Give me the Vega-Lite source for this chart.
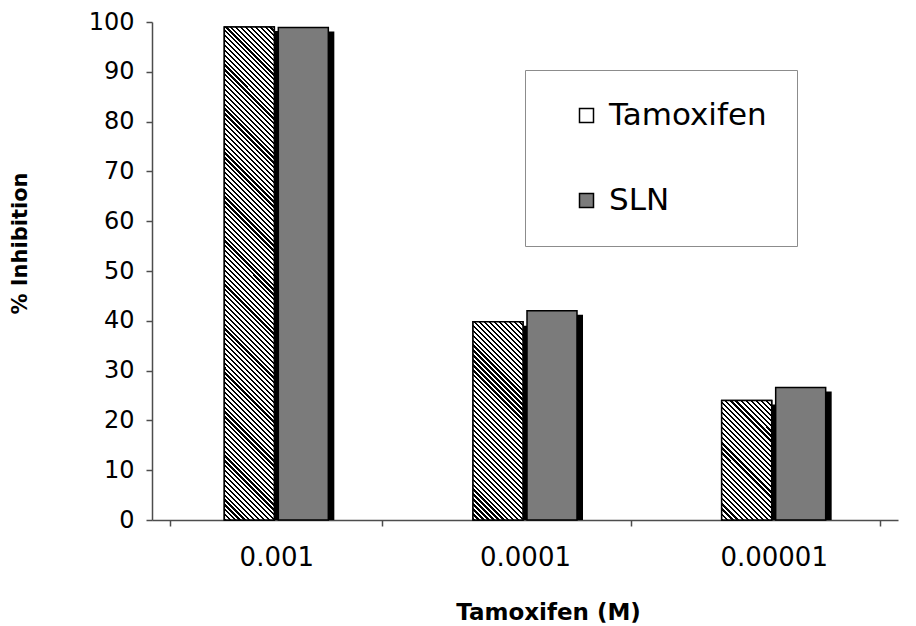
{
 "$schema": "https://vega.github.io/schema/vega-lite/v6.json",
 "width": 746,
 "height": 498,
 "autosize": {"type": "none"},
 "padding": {"left": 152, "top": 22, "right": 18, "bottom": 106},
 "background": "white",
 "config": {
  "view": {"stroke": null},
  "axis": {"grid": false},
  "axisY": {"labelFont": "DejaVu Sans", "labelFontSize": 24, "labelColor": "black", "labelPadding": 12, "tickSize": 6, "tickColor": "#4d4d4d", "tickWidth": 1.5, "domainColor": "#4d4d4d", "domainWidth": 1.5, "titleFont": "DejaVu Sans", "titleFontSize": 21, "titleFontWeight": "bold", "titleColor": "black", "titleX": -132, "titleY": 221, "titleAlign": "center", "titleBaseline": "middle", "titleAngle": -90, "tickCount": 11},
  "axisX": {"labelFont": "DejaVu Sans", "labelFontSize": 26, "labelColor": "black", "labelAngle": 0, "labelPadding": 18, "tickSize": 6, "tickColor": "#4d4d4d", "tickWidth": 1.5, "domainColor": "#4d4d4d", "domainWidth": 1.5, "tickBand": "extent", "titleFont": "DejaVu Sans", "titleFontSize": 23, "titleFontWeight": "bold", "titleColor": "black", "titleX": 396, "titleY": 99, "titleAlign": "center", "titleBaseline": "alphabetic"}
 },
 "data": {"values": [
  {"conc": "0.001", "series": "Tamoxifen", "value": 99},
  {"conc": "0.001", "series": "SLN", "value": 98.9},
  {"conc": "0.0001", "series": "Tamoxifen", "value": 39.8},
  {"conc": "0.0001", "series": "SLN", "value": 42},
  {"conc": "0.00001", "series": "Tamoxifen", "value": 24},
  {"conc": "0.00001", "series": "SLN", "value": 26.6}
 ]},
 "encoding": {
  "x": {"field": "conc", "type": "nominal", "sort": ["0.001", "0.0001", "0.00001"], "title": "Tamoxifen (M)", "scale": {"paddingInner": 0.1475, "paddingOuter": 0.0737}},
  "y": {"field": "value", "type": "quantitative", "stack": null, "title": "% Inhibition", "scale": {"domain": [0, 100], "nice": false}}
 },
 "resolve": {"scale": {"xOffset": "independent"}},
 "layer": [
  {
   "mark": {"type": "bar", "color": "black", "yOffset": 4},
   "encoding": {
    "xOffset": {"field": "series", "type": "nominal", "sort": ["Tamoxifen", "SLN"], "scale": {"paddingInner": 0.074, "paddingOuter": 1, "align": 0.5556}}
   }
  },
  {
   "encoding": {
    "xOffset": {"field": "series", "type": "nominal", "sort": ["Tamoxifen", "SLN"], "scale": {"paddingInner": 0.074, "paddingOuter": 1}}
   },
   "layer": [
    {
     "mark": {"type": "bar", "stroke": "black", "strokeWidth": 1.5},
     "encoding": {
      "color": {"field": "series", "type": "nominal", "scale": {"domain": ["Tamoxifen", "SLN"], "range": ["#ffffff", "#7b7b7b"]},
       "legend": {"orient": "none", "legendX": 373, "legendY": 48, "title": null, "direction": "vertical", "padding": 30, "strokeColor": "#8c8c8c", "fillColor": "white", "symbolType": "square", "symbolSize": 196, "symbolStrokeColor": "black", "symbolStrokeWidth": 1.5, "symbolOpacity": 1, "symbolOffset": 16, "labelOffset": 7, "labelFont": "DejaVu Sans", "labelFontSize": 31, "labelColor": "black", "rowPadding": 53, "labelLimit": 400, "zindex": 1}
      }
     }
    },
    {
     "transform": [{"filter": "datum.series === 'Tamoxifen' && datum.conc === '0.001'"}],
     "mark": {"type": "bar", "strokeWidth": 0, "fill": {"gradient": "linear", "x1": 0, "y1": 1, "x2": 0.1106, "y2": -0.0902, "stops": [
{"offset":0,"color":"#000"},{"offset":0.004,"color":"#000"},{"offset":0.004,"color":"#fff"},{"offset":0.009,"color":"#fff"},
{"offset":0.009,"color":"#000"},{"offset":0.013,"color":"#000"},{"offset":0.013,"color":"#fff"},{"offset":0.018,"color":"#fff"},
{"offset":0.018,"color":"#000"},{"offset":0.022,"color":"#000"},{"offset":0.022,"color":"#fff"},{"offset":0.027,"color":"#fff"},
{"offset":0.027,"color":"#000"},{"offset":0.031,"color":"#000"},{"offset":0.031,"color":"#fff"},{"offset":0.036,"color":"#fff"},
{"offset":0.036,"color":"#000"},{"offset":0.040,"color":"#000"},{"offset":0.040,"color":"#fff"},{"offset":0.045,"color":"#fff"},
{"offset":0.045,"color":"#000"},{"offset":0.049,"color":"#000"},{"offset":0.049,"color":"#fff"},{"offset":0.054,"color":"#fff"},
{"offset":0.054,"color":"#000"},{"offset":0.058,"color":"#000"},{"offset":0.058,"color":"#fff"},{"offset":0.063,"color":"#fff"},
{"offset":0.063,"color":"#000"},{"offset":0.067,"color":"#000"},{"offset":0.067,"color":"#fff"},{"offset":0.072,"color":"#fff"},
{"offset":0.072,"color":"#000"},{"offset":0.076,"color":"#000"},{"offset":0.076,"color":"#fff"},{"offset":0.081,"color":"#fff"},
{"offset":0.081,"color":"#000"},{"offset":0.085,"color":"#000"},{"offset":0.085,"color":"#fff"},{"offset":0.090,"color":"#fff"},
{"offset":0.090,"color":"#000"},{"offset":0.094,"color":"#000"},{"offset":0.094,"color":"#fff"},{"offset":0.099,"color":"#fff"},
{"offset":0.099,"color":"#000"},{"offset":0.103,"color":"#000"},{"offset":0.103,"color":"#fff"},{"offset":0.108,"color":"#fff"},
{"offset":0.108,"color":"#000"},{"offset":0.112,"color":"#000"},{"offset":0.112,"color":"#fff"},{"offset":0.117,"color":"#fff"},
{"offset":0.117,"color":"#000"},{"offset":0.121,"color":"#000"},{"offset":0.121,"color":"#fff"},{"offset":0.126,"color":"#fff"},
{"offset":0.126,"color":"#000"},{"offset":0.130,"color":"#000"},{"offset":0.130,"color":"#fff"},{"offset":0.135,"color":"#fff"},
{"offset":0.135,"color":"#000"},{"offset":0.139,"color":"#000"},{"offset":0.139,"color":"#fff"},{"offset":0.144,"color":"#fff"},
{"offset":0.144,"color":"#000"},{"offset":0.148,"color":"#000"},{"offset":0.148,"color":"#fff"},{"offset":0.153,"color":"#fff"},
{"offset":0.153,"color":"#000"},{"offset":0.157,"color":"#000"},{"offset":0.157,"color":"#fff"},{"offset":0.162,"color":"#fff"},
{"offset":0.162,"color":"#000"},{"offset":0.166,"color":"#000"},{"offset":0.166,"color":"#fff"},{"offset":0.171,"color":"#fff"},
{"offset":0.171,"color":"#000"},{"offset":0.175,"color":"#000"},{"offset":0.175,"color":"#fff"},{"offset":0.180,"color":"#fff"},
{"offset":0.180,"color":"#000"},{"offset":0.184,"color":"#000"},{"offset":0.184,"color":"#fff"},{"offset":0.189,"color":"#fff"},
{"offset":0.189,"color":"#000"},{"offset":0.193,"color":"#000"},{"offset":0.193,"color":"#fff"},{"offset":0.198,"color":"#fff"},
{"offset":0.198,"color":"#000"},{"offset":0.202,"color":"#000"},{"offset":0.202,"color":"#fff"},{"offset":0.207,"color":"#fff"},
{"offset":0.207,"color":"#000"},{"offset":0.211,"color":"#000"},{"offset":0.211,"color":"#fff"},{"offset":0.216,"color":"#fff"},
{"offset":0.216,"color":"#000"},{"offset":0.220,"color":"#000"},{"offset":0.220,"color":"#fff"},{"offset":0.225,"color":"#fff"},
{"offset":0.225,"color":"#000"},{"offset":0.229,"color":"#000"},{"offset":0.229,"color":"#fff"},{"offset":0.234,"color":"#fff"},
{"offset":0.234,"color":"#000"},{"offset":0.238,"color":"#000"},{"offset":0.238,"color":"#fff"},{"offset":0.243,"color":"#fff"},
{"offset":0.243,"color":"#000"},{"offset":0.247,"color":"#000"},{"offset":0.247,"color":"#fff"},{"offset":0.252,"color":"#fff"},
{"offset":0.252,"color":"#000"},{"offset":0.256,"color":"#000"},{"offset":0.256,"color":"#fff"},{"offset":0.261,"color":"#fff"},
{"offset":0.261,"color":"#000"},{"offset":0.265,"color":"#000"},{"offset":0.265,"color":"#fff"},{"offset":0.270,"color":"#fff"},
{"offset":0.270,"color":"#000"},{"offset":0.274,"color":"#000"},{"offset":0.274,"color":"#fff"},{"offset":0.279,"color":"#fff"},
{"offset":0.279,"color":"#000"},{"offset":0.283,"color":"#000"},{"offset":0.283,"color":"#fff"},{"offset":0.288,"color":"#fff"},
{"offset":0.288,"color":"#000"},{"offset":0.292,"color":"#000"},{"offset":0.292,"color":"#fff"},{"offset":0.297,"color":"#fff"},
{"offset":0.297,"color":"#000"},{"offset":0.301,"color":"#000"},{"offset":0.301,"color":"#fff"},{"offset":0.306,"color":"#fff"},
{"offset":0.306,"color":"#000"},{"offset":0.310,"color":"#000"},{"offset":0.310,"color":"#fff"},{"offset":0.315,"color":"#fff"},
{"offset":0.315,"color":"#000"},{"offset":0.319,"color":"#000"},{"offset":0.319,"color":"#fff"},{"offset":0.324,"color":"#fff"},
{"offset":0.324,"color":"#000"},{"offset":0.328,"color":"#000"},{"offset":0.328,"color":"#fff"},{"offset":0.333,"color":"#fff"},
{"offset":0.333,"color":"#000"},{"offset":0.337,"color":"#000"},{"offset":0.337,"color":"#fff"},{"offset":0.342,"color":"#fff"},
{"offset":0.342,"color":"#000"},{"offset":0.346,"color":"#000"},{"offset":0.346,"color":"#fff"},{"offset":0.351,"color":"#fff"},
{"offset":0.351,"color":"#000"},{"offset":0.355,"color":"#000"},{"offset":0.355,"color":"#fff"},{"offset":0.360,"color":"#fff"},
{"offset":0.360,"color":"#000"},{"offset":0.364,"color":"#000"},{"offset":0.364,"color":"#fff"},{"offset":0.369,"color":"#fff"},
{"offset":0.369,"color":"#000"},{"offset":0.373,"color":"#000"},{"offset":0.373,"color":"#fff"},{"offset":0.378,"color":"#fff"},
{"offset":0.378,"color":"#000"},{"offset":0.382,"color":"#000"},{"offset":0.382,"color":"#fff"},{"offset":0.387,"color":"#fff"},
{"offset":0.387,"color":"#000"},{"offset":0.391,"color":"#000"},{"offset":0.391,"color":"#fff"},{"offset":0.396,"color":"#fff"},
{"offset":0.396,"color":"#000"},{"offset":0.400,"color":"#000"},{"offset":0.400,"color":"#fff"},{"offset":0.405,"color":"#fff"},
{"offset":0.405,"color":"#000"},{"offset":0.409,"color":"#000"},{"offset":0.409,"color":"#fff"},{"offset":0.414,"color":"#fff"},
{"offset":0.414,"color":"#000"},{"offset":0.418,"color":"#000"},{"offset":0.418,"color":"#fff"},{"offset":0.423,"color":"#fff"},
{"offset":0.423,"color":"#000"},{"offset":0.427,"color":"#000"},{"offset":0.427,"color":"#fff"},{"offset":0.432,"color":"#fff"},
{"offset":0.432,"color":"#000"},{"offset":0.436,"color":"#000"},{"offset":0.436,"color":"#fff"},{"offset":0.441,"color":"#fff"},
{"offset":0.441,"color":"#000"},{"offset":0.445,"color":"#000"},{"offset":0.445,"color":"#fff"},{"offset":0.450,"color":"#fff"},
{"offset":0.450,"color":"#000"},{"offset":0.454,"color":"#000"},{"offset":0.454,"color":"#fff"},{"offset":0.459,"color":"#fff"},
{"offset":0.459,"color":"#000"},{"offset":0.463,"color":"#000"},{"offset":0.463,"color":"#fff"},{"offset":0.468,"color":"#fff"},
{"offset":0.468,"color":"#000"},{"offset":0.472,"color":"#000"},{"offset":0.472,"color":"#fff"},{"offset":0.477,"color":"#fff"},
{"offset":0.477,"color":"#000"},{"offset":0.481,"color":"#000"},{"offset":0.481,"color":"#fff"},{"offset":0.486,"color":"#fff"},
{"offset":0.486,"color":"#000"},{"offset":0.490,"color":"#000"},{"offset":0.490,"color":"#fff"},{"offset":0.495,"color":"#fff"},
{"offset":0.495,"color":"#000"},{"offset":0.499,"color":"#000"},{"offset":0.499,"color":"#fff"},{"offset":0.504,"color":"#fff"},
{"offset":0.504,"color":"#000"},{"offset":0.508,"color":"#000"},{"offset":0.508,"color":"#fff"},{"offset":0.513,"color":"#fff"},
{"offset":0.513,"color":"#000"},{"offset":0.517,"color":"#000"},{"offset":0.517,"color":"#fff"},{"offset":0.522,"color":"#fff"},
{"offset":0.522,"color":"#000"},{"offset":0.526,"color":"#000"},{"offset":0.526,"color":"#fff"},{"offset":0.531,"color":"#fff"},
{"offset":0.531,"color":"#000"},{"offset":0.535,"color":"#000"},{"offset":0.535,"color":"#fff"},{"offset":0.540,"color":"#fff"},
{"offset":0.540,"color":"#000"},{"offset":0.544,"color":"#000"},{"offset":0.544,"color":"#fff"},{"offset":0.549,"color":"#fff"},
{"offset":0.549,"color":"#000"},{"offset":0.553,"color":"#000"},{"offset":0.553,"color":"#fff"},{"offset":0.558,"color":"#fff"},
{"offset":0.558,"color":"#000"},{"offset":0.562,"color":"#000"},{"offset":0.562,"color":"#fff"},{"offset":0.567,"color":"#fff"},
{"offset":0.567,"color":"#000"},{"offset":0.571,"color":"#000"},{"offset":0.571,"color":"#fff"},{"offset":0.576,"color":"#fff"},
{"offset":0.576,"color":"#000"},{"offset":0.580,"color":"#000"},{"offset":0.580,"color":"#fff"},{"offset":0.585,"color":"#fff"},
{"offset":0.585,"color":"#000"},{"offset":0.589,"color":"#000"},{"offset":0.589,"color":"#fff"},{"offset":0.594,"color":"#fff"},
{"offset":0.594,"color":"#000"},{"offset":0.598,"color":"#000"},{"offset":0.598,"color":"#fff"},{"offset":0.603,"color":"#fff"},
{"offset":0.603,"color":"#000"},{"offset":0.607,"color":"#000"},{"offset":0.607,"color":"#fff"},{"offset":0.612,"color":"#fff"},
{"offset":0.612,"color":"#000"},{"offset":0.616,"color":"#000"},{"offset":0.616,"color":"#fff"},{"offset":0.621,"color":"#fff"},
{"offset":0.621,"color":"#000"},{"offset":0.625,"color":"#000"},{"offset":0.625,"color":"#fff"},{"offset":0.630,"color":"#fff"},
{"offset":0.630,"color":"#000"},{"offset":0.634,"color":"#000"},{"offset":0.634,"color":"#fff"},{"offset":0.639,"color":"#fff"},
{"offset":0.639,"color":"#000"},{"offset":0.643,"color":"#000"},{"offset":0.643,"color":"#fff"},{"offset":0.648,"color":"#fff"},
{"offset":0.648,"color":"#000"},{"offset":0.652,"color":"#000"},{"offset":0.652,"color":"#fff"},{"offset":0.657,"color":"#fff"},
{"offset":0.657,"color":"#000"},{"offset":0.661,"color":"#000"},{"offset":0.661,"color":"#fff"},{"offset":0.666,"color":"#fff"},
{"offset":0.666,"color":"#000"},{"offset":0.670,"color":"#000"},{"offset":0.670,"color":"#fff"},{"offset":0.675,"color":"#fff"},
{"offset":0.675,"color":"#000"},{"offset":0.679,"color":"#000"},{"offset":0.679,"color":"#fff"},{"offset":0.684,"color":"#fff"},
{"offset":0.684,"color":"#000"},{"offset":0.688,"color":"#000"},{"offset":0.688,"color":"#fff"},{"offset":0.693,"color":"#fff"},
{"offset":0.693,"color":"#000"},{"offset":0.697,"color":"#000"},{"offset":0.697,"color":"#fff"},{"offset":0.702,"color":"#fff"},
{"offset":0.702,"color":"#000"},{"offset":0.706,"color":"#000"},{"offset":0.706,"color":"#fff"},{"offset":0.711,"color":"#fff"},
{"offset":0.711,"color":"#000"},{"offset":0.715,"color":"#000"},{"offset":0.715,"color":"#fff"},{"offset":0.720,"color":"#fff"},
{"offset":0.720,"color":"#000"},{"offset":0.724,"color":"#000"},{"offset":0.724,"color":"#fff"},{"offset":0.729,"color":"#fff"},
{"offset":0.729,"color":"#000"},{"offset":0.733,"color":"#000"},{"offset":0.733,"color":"#fff"},{"offset":0.738,"color":"#fff"},
{"offset":0.738,"color":"#000"},{"offset":0.742,"color":"#000"},{"offset":0.742,"color":"#fff"},{"offset":0.747,"color":"#fff"},
{"offset":0.747,"color":"#000"},{"offset":0.751,"color":"#000"},{"offset":0.751,"color":"#fff"},{"offset":0.756,"color":"#fff"},
{"offset":0.756,"color":"#000"},{"offset":0.760,"color":"#000"},{"offset":0.760,"color":"#fff"},{"offset":0.765,"color":"#fff"},
{"offset":0.765,"color":"#000"},{"offset":0.769,"color":"#000"},{"offset":0.769,"color":"#fff"},{"offset":0.774,"color":"#fff"},
{"offset":0.774,"color":"#000"},{"offset":0.778,"color":"#000"},{"offset":0.778,"color":"#fff"},{"offset":0.783,"color":"#fff"},
{"offset":0.783,"color":"#000"},{"offset":0.787,"color":"#000"},{"offset":0.787,"color":"#fff"},{"offset":0.792,"color":"#fff"},
{"offset":0.792,"color":"#000"},{"offset":0.796,"color":"#000"},{"offset":0.796,"color":"#fff"},{"offset":0.801,"color":"#fff"},
{"offset":0.801,"color":"#000"},{"offset":0.805,"color":"#000"},{"offset":0.805,"color":"#fff"},{"offset":0.810,"color":"#fff"},
{"offset":0.810,"color":"#000"},{"offset":0.814,"color":"#000"},{"offset":0.814,"color":"#fff"},{"offset":0.819,"color":"#fff"},
{"offset":0.819,"color":"#000"},{"offset":0.823,"color":"#000"},{"offset":0.823,"color":"#fff"},{"offset":0.828,"color":"#fff"},
{"offset":0.828,"color":"#000"},{"offset":0.832,"color":"#000"},{"offset":0.832,"color":"#fff"},{"offset":0.837,"color":"#fff"},
{"offset":0.837,"color":"#000"},{"offset":0.841,"color":"#000"},{"offset":0.841,"color":"#fff"},{"offset":0.846,"color":"#fff"},
{"offset":0.846,"color":"#000"},{"offset":0.850,"color":"#000"},{"offset":0.850,"color":"#fff"},{"offset":0.855,"color":"#fff"},
{"offset":0.855,"color":"#000"},{"offset":0.859,"color":"#000"},{"offset":0.859,"color":"#fff"},{"offset":0.864,"color":"#fff"},
{"offset":0.864,"color":"#000"},{"offset":0.868,"color":"#000"},{"offset":0.868,"color":"#fff"},{"offset":0.873,"color":"#fff"},
{"offset":0.873,"color":"#000"},{"offset":0.877,"color":"#000"},{"offset":0.877,"color":"#fff"},{"offset":0.882,"color":"#fff"},
{"offset":0.882,"color":"#000"},{"offset":0.886,"color":"#000"},{"offset":0.886,"color":"#fff"},{"offset":0.891,"color":"#fff"},
{"offset":0.891,"color":"#000"},{"offset":0.895,"color":"#000"},{"offset":0.895,"color":"#fff"},{"offset":0.900,"color":"#fff"},
{"offset":0.900,"color":"#000"},{"offset":0.904,"color":"#000"},{"offset":0.904,"color":"#fff"},{"offset":0.909,"color":"#fff"},
{"offset":0.909,"color":"#000"},{"offset":0.913,"color":"#000"},{"offset":0.913,"color":"#fff"},{"offset":0.918,"color":"#fff"},
{"offset":0.918,"color":"#000"},{"offset":0.922,"color":"#000"},{"offset":0.922,"color":"#fff"},{"offset":0.927,"color":"#fff"},
{"offset":0.927,"color":"#000"},{"offset":0.931,"color":"#000"},{"offset":0.931,"color":"#fff"},{"offset":0.936,"color":"#fff"},
{"offset":0.936,"color":"#000"},{"offset":0.940,"color":"#000"},{"offset":0.940,"color":"#fff"},{"offset":0.945,"color":"#fff"},
{"offset":0.945,"color":"#000"},{"offset":0.949,"color":"#000"},{"offset":0.949,"color":"#fff"},{"offset":0.954,"color":"#fff"},
{"offset":0.954,"color":"#000"},{"offset":0.958,"color":"#000"},{"offset":0.958,"color":"#fff"},{"offset":0.963,"color":"#fff"},
{"offset":0.963,"color":"#000"},{"offset":0.967,"color":"#000"},{"offset":0.967,"color":"#fff"},{"offset":0.972,"color":"#fff"},
{"offset":0.972,"color":"#000"},{"offset":0.976,"color":"#000"},{"offset":0.976,"color":"#fff"},{"offset":0.981,"color":"#fff"},
{"offset":0.981,"color":"#000"},{"offset":0.985,"color":"#000"},{"offset":0.985,"color":"#fff"},{"offset":0.990,"color":"#fff"},
{"offset":0.990,"color":"#000"},{"offset":0.994,"color":"#000"},{"offset":0.994,"color":"#fff"},{"offset":0.999,"color":"#fff"},
{"offset":0.999,"color":"#000"},{"offset":1,"color":"#000"}
     ]}}
    },
    {
     "transform": [{"filter": "datum.series === 'Tamoxifen' && datum.conc === '0.0001'"}],
     "mark": {"type": "bar", "strokeWidth": 0, "fill": {"gradient": "linear", "x1": 0, "y1": 1, "x2": 0.2971, "y2": -0.1777, "stops": [
{"offset":0,"color":"#000"},{"offset":0.009,"color":"#000"},{"offset":0.009,"color":"#fff"},{"offset":0.02,"color":"#fff"},
{"offset":0.02,"color":"#000"},{"offset":0.029,"color":"#000"},{"offset":0.029,"color":"#fff"},{"offset":0.04,"color":"#fff"},
{"offset":0.04,"color":"#000"},{"offset":0.049,"color":"#000"},{"offset":0.049,"color":"#fff"},{"offset":0.06,"color":"#fff"},
{"offset":0.06,"color":"#000"},{"offset":0.069,"color":"#000"},{"offset":0.069,"color":"#fff"},{"offset":0.08,"color":"#fff"},
{"offset":0.08,"color":"#000"},{"offset":0.089,"color":"#000"},{"offset":0.089,"color":"#fff"},{"offset":0.10,"color":"#fff"},
{"offset":0.10,"color":"#000"},{"offset":0.109,"color":"#000"},{"offset":0.109,"color":"#fff"},{"offset":0.12,"color":"#fff"},
{"offset":0.12,"color":"#000"},{"offset":0.129,"color":"#000"},{"offset":0.129,"color":"#fff"},{"offset":0.14,"color":"#fff"},
{"offset":0.14,"color":"#000"},{"offset":0.149,"color":"#000"},{"offset":0.149,"color":"#fff"},{"offset":0.16,"color":"#fff"},
{"offset":0.16,"color":"#000"},{"offset":0.169,"color":"#000"},{"offset":0.169,"color":"#fff"},{"offset":0.18,"color":"#fff"},
{"offset":0.18,"color":"#000"},{"offset":0.189,"color":"#000"},{"offset":0.189,"color":"#fff"},{"offset":0.20,"color":"#fff"},
{"offset":0.20,"color":"#000"},{"offset":0.209,"color":"#000"},{"offset":0.209,"color":"#fff"},{"offset":0.22,"color":"#fff"},
{"offset":0.22,"color":"#000"},{"offset":0.229,"color":"#000"},{"offset":0.229,"color":"#fff"},{"offset":0.24,"color":"#fff"},
{"offset":0.24,"color":"#000"},{"offset":0.249,"color":"#000"},{"offset":0.249,"color":"#fff"},{"offset":0.26,"color":"#fff"},
{"offset":0.26,"color":"#000"},{"offset":0.269,"color":"#000"},{"offset":0.269,"color":"#fff"},{"offset":0.28,"color":"#fff"},
{"offset":0.28,"color":"#000"},{"offset":0.289,"color":"#000"},{"offset":0.289,"color":"#fff"},{"offset":0.30,"color":"#fff"},
{"offset":0.30,"color":"#000"},{"offset":0.309,"color":"#000"},{"offset":0.309,"color":"#fff"},{"offset":0.32,"color":"#fff"},
{"offset":0.32,"color":"#000"},{"offset":0.329,"color":"#000"},{"offset":0.329,"color":"#fff"},{"offset":0.34,"color":"#fff"},
{"offset":0.34,"color":"#000"},{"offset":0.349,"color":"#000"},{"offset":0.349,"color":"#fff"},{"offset":0.36,"color":"#fff"},
{"offset":0.36,"color":"#000"},{"offset":0.369,"color":"#000"},{"offset":0.369,"color":"#fff"},{"offset":0.38,"color":"#fff"},
{"offset":0.38,"color":"#000"},{"offset":0.389,"color":"#000"},{"offset":0.389,"color":"#fff"},{"offset":0.40,"color":"#fff"},
{"offset":0.40,"color":"#000"},{"offset":0.409,"color":"#000"},{"offset":0.409,"color":"#fff"},{"offset":0.42,"color":"#fff"},
{"offset":0.42,"color":"#000"},{"offset":0.429,"color":"#000"},{"offset":0.429,"color":"#fff"},{"offset":0.44,"color":"#fff"},
{"offset":0.44,"color":"#000"},{"offset":0.449,"color":"#000"},{"offset":0.449,"color":"#fff"},{"offset":0.46,"color":"#fff"},
{"offset":0.46,"color":"#000"},{"offset":0.469,"color":"#000"},{"offset":0.469,"color":"#fff"},{"offset":0.48,"color":"#fff"},
{"offset":0.48,"color":"#000"},{"offset":0.489,"color":"#000"},{"offset":0.489,"color":"#fff"},{"offset":0.50,"color":"#fff"},
{"offset":0.50,"color":"#000"},{"offset":0.509,"color":"#000"},{"offset":0.509,"color":"#fff"},{"offset":0.52,"color":"#fff"},
{"offset":0.52,"color":"#000"},{"offset":0.529,"color":"#000"},{"offset":0.529,"color":"#fff"},{"offset":0.54,"color":"#fff"},
{"offset":0.54,"color":"#000"},{"offset":0.549,"color":"#000"},{"offset":0.549,"color":"#fff"},{"offset":0.56,"color":"#fff"},
{"offset":0.56,"color":"#000"},{"offset":0.569,"color":"#000"},{"offset":0.569,"color":"#fff"},{"offset":0.58,"color":"#fff"},
{"offset":0.58,"color":"#000"},{"offset":0.589,"color":"#000"},{"offset":0.589,"color":"#fff"},{"offset":0.60,"color":"#fff"},
{"offset":0.60,"color":"#000"},{"offset":0.609,"color":"#000"},{"offset":0.609,"color":"#fff"},{"offset":0.62,"color":"#fff"},
{"offset":0.62,"color":"#000"},{"offset":0.629,"color":"#000"},{"offset":0.629,"color":"#fff"},{"offset":0.64,"color":"#fff"},
{"offset":0.64,"color":"#000"},{"offset":0.649,"color":"#000"},{"offset":0.649,"color":"#fff"},{"offset":0.66,"color":"#fff"},
{"offset":0.66,"color":"#000"},{"offset":0.669,"color":"#000"},{"offset":0.669,"color":"#fff"},{"offset":0.68,"color":"#fff"},
{"offset":0.68,"color":"#000"},{"offset":0.689,"color":"#000"},{"offset":0.689,"color":"#fff"},{"offset":0.70,"color":"#fff"},
{"offset":0.70,"color":"#000"},{"offset":0.709,"color":"#000"},{"offset":0.709,"color":"#fff"},{"offset":0.72,"color":"#fff"},
{"offset":0.72,"color":"#000"},{"offset":0.729,"color":"#000"},{"offset":0.729,"color":"#fff"},{"offset":0.74,"color":"#fff"},
{"offset":0.74,"color":"#000"},{"offset":0.749,"color":"#000"},{"offset":0.749,"color":"#fff"},{"offset":0.76,"color":"#fff"},
{"offset":0.76,"color":"#000"},{"offset":0.769,"color":"#000"},{"offset":0.769,"color":"#fff"},{"offset":0.78,"color":"#fff"},
{"offset":0.78,"color":"#000"},{"offset":0.789,"color":"#000"},{"offset":0.789,"color":"#fff"},{"offset":0.80,"color":"#fff"},
{"offset":0.80,"color":"#000"},{"offset":0.809,"color":"#000"},{"offset":0.809,"color":"#fff"},{"offset":0.82,"color":"#fff"},
{"offset":0.82,"color":"#000"},{"offset":0.829,"color":"#000"},{"offset":0.829,"color":"#fff"},{"offset":0.84,"color":"#fff"},
{"offset":0.84,"color":"#000"},{"offset":0.849,"color":"#000"},{"offset":0.849,"color":"#fff"},{"offset":0.86,"color":"#fff"},
{"offset":0.86,"color":"#000"},{"offset":0.869,"color":"#000"},{"offset":0.869,"color":"#fff"},{"offset":0.88,"color":"#fff"},
{"offset":0.88,"color":"#000"},{"offset":0.889,"color":"#000"},{"offset":0.889,"color":"#fff"},{"offset":0.90,"color":"#fff"},
{"offset":0.90,"color":"#000"},{"offset":0.909,"color":"#000"},{"offset":0.909,"color":"#fff"},{"offset":0.92,"color":"#fff"},
{"offset":0.92,"color":"#000"},{"offset":0.929,"color":"#000"},{"offset":0.929,"color":"#fff"},{"offset":0.94,"color":"#fff"},
{"offset":0.94,"color":"#000"},{"offset":0.949,"color":"#000"},{"offset":0.949,"color":"#fff"},{"offset":0.96,"color":"#fff"},
{"offset":0.96,"color":"#000"},{"offset":0.969,"color":"#000"},{"offset":0.969,"color":"#fff"},{"offset":0.98,"color":"#fff"},
{"offset":0.98,"color":"#000"},{"offset":0.989,"color":"#000"},{"offset":0.989,"color":"#fff"},{"offset":1,"color":"#fff"}
     ]}}
    },
    {
     "transform": [{"filter": "datum.series === 'Tamoxifen' && datum.conc === '0.00001'"}],
     "mark": {"type": "bar", "strokeWidth": 0, "fill": {"gradient": "linear", "x1": 0, "y1": 1, "x2": 0.5051, "y2": -0.2072, "stops": [
{"offset":0,"color":"#000"},{"offset":0.013,"color":"#000"},{"offset":0.013,"color":"#fff"},{"offset":0.03,"color":"#fff"},
{"offset":0.03,"color":"#000"},{"offset":0.043,"color":"#000"},{"offset":0.043,"color":"#fff"},{"offset":0.06,"color":"#fff"},
{"offset":0.06,"color":"#000"},{"offset":0.073,"color":"#000"},{"offset":0.073,"color":"#fff"},{"offset":0.09,"color":"#fff"},
{"offset":0.09,"color":"#000"},{"offset":0.103,"color":"#000"},{"offset":0.103,"color":"#fff"},{"offset":0.12,"color":"#fff"},
{"offset":0.12,"color":"#000"},{"offset":0.133,"color":"#000"},{"offset":0.133,"color":"#fff"},{"offset":0.15,"color":"#fff"},
{"offset":0.15,"color":"#000"},{"offset":0.163,"color":"#000"},{"offset":0.163,"color":"#fff"},{"offset":0.18,"color":"#fff"},
{"offset":0.18,"color":"#000"},{"offset":0.193,"color":"#000"},{"offset":0.193,"color":"#fff"},{"offset":0.21,"color":"#fff"},
{"offset":0.21,"color":"#000"},{"offset":0.223,"color":"#000"},{"offset":0.223,"color":"#fff"},{"offset":0.24,"color":"#fff"},
{"offset":0.24,"color":"#000"},{"offset":0.253,"color":"#000"},{"offset":0.253,"color":"#fff"},{"offset":0.27,"color":"#fff"},
{"offset":0.27,"color":"#000"},{"offset":0.283,"color":"#000"},{"offset":0.283,"color":"#fff"},{"offset":0.30,"color":"#fff"},
{"offset":0.30,"color":"#000"},{"offset":0.313,"color":"#000"},{"offset":0.313,"color":"#fff"},{"offset":0.33,"color":"#fff"},
{"offset":0.33,"color":"#000"},{"offset":0.343,"color":"#000"},{"offset":0.343,"color":"#fff"},{"offset":0.36,"color":"#fff"},
{"offset":0.36,"color":"#000"},{"offset":0.373,"color":"#000"},{"offset":0.373,"color":"#fff"},{"offset":0.39,"color":"#fff"},
{"offset":0.39,"color":"#000"},{"offset":0.403,"color":"#000"},{"offset":0.403,"color":"#fff"},{"offset":0.42,"color":"#fff"},
{"offset":0.42,"color":"#000"},{"offset":0.433,"color":"#000"},{"offset":0.433,"color":"#fff"},{"offset":0.45,"color":"#fff"},
{"offset":0.45,"color":"#000"},{"offset":0.463,"color":"#000"},{"offset":0.463,"color":"#fff"},{"offset":0.48,"color":"#fff"},
{"offset":0.48,"color":"#000"},{"offset":0.493,"color":"#000"},{"offset":0.493,"color":"#fff"},{"offset":0.51,"color":"#fff"},
{"offset":0.51,"color":"#000"},{"offset":0.523,"color":"#000"},{"offset":0.523,"color":"#fff"},{"offset":0.54,"color":"#fff"},
{"offset":0.54,"color":"#000"},{"offset":0.553,"color":"#000"},{"offset":0.553,"color":"#fff"},{"offset":0.57,"color":"#fff"},
{"offset":0.57,"color":"#000"},{"offset":0.583,"color":"#000"},{"offset":0.583,"color":"#fff"},{"offset":0.60,"color":"#fff"},
{"offset":0.60,"color":"#000"},{"offset":0.613,"color":"#000"},{"offset":0.613,"color":"#fff"},{"offset":0.63,"color":"#fff"},
{"offset":0.63,"color":"#000"},{"offset":0.643,"color":"#000"},{"offset":0.643,"color":"#fff"},{"offset":0.66,"color":"#fff"},
{"offset":0.66,"color":"#000"},{"offset":0.673,"color":"#000"},{"offset":0.673,"color":"#fff"},{"offset":0.69,"color":"#fff"},
{"offset":0.69,"color":"#000"},{"offset":0.703,"color":"#000"},{"offset":0.703,"color":"#fff"},{"offset":0.72,"color":"#fff"},
{"offset":0.72,"color":"#000"},{"offset":0.733,"color":"#000"},{"offset":0.733,"color":"#fff"},{"offset":0.75,"color":"#fff"},
{"offset":0.75,"color":"#000"},{"offset":0.763,"color":"#000"},{"offset":0.763,"color":"#fff"},{"offset":0.78,"color":"#fff"},
{"offset":0.78,"color":"#000"},{"offset":0.793,"color":"#000"},{"offset":0.793,"color":"#fff"},{"offset":0.81,"color":"#fff"},
{"offset":0.81,"color":"#000"},{"offset":0.823,"color":"#000"},{"offset":0.823,"color":"#fff"},{"offset":0.84,"color":"#fff"},
{"offset":0.84,"color":"#000"},{"offset":0.853,"color":"#000"},{"offset":0.853,"color":"#fff"},{"offset":0.87,"color":"#fff"},
{"offset":0.87,"color":"#000"},{"offset":0.883,"color":"#000"},{"offset":0.883,"color":"#fff"},{"offset":0.90,"color":"#fff"},
{"offset":0.90,"color":"#000"},{"offset":0.913,"color":"#000"},{"offset":0.913,"color":"#fff"},{"offset":0.93,"color":"#fff"},
{"offset":0.93,"color":"#000"},{"offset":0.943,"color":"#000"},{"offset":0.943,"color":"#fff"},{"offset":0.96,"color":"#fff"},
{"offset":0.96,"color":"#000"},{"offset":0.973,"color":"#000"},{"offset":0.973,"color":"#fff"},{"offset":0.99,"color":"#fff"},
{"offset":0.99,"color":"#000"},{"offset":1,"color":"#000"}
     ]}}
    },
    {
     "transform": [{"filter": "datum.series === 'Tamoxifen'"}],
     "mark": {"type": "bar", "fill": "white", "fillOpacity": 0, "stroke": "black", "strokeWidth": 1.5}
    }
   ]
  }
 ]
}
